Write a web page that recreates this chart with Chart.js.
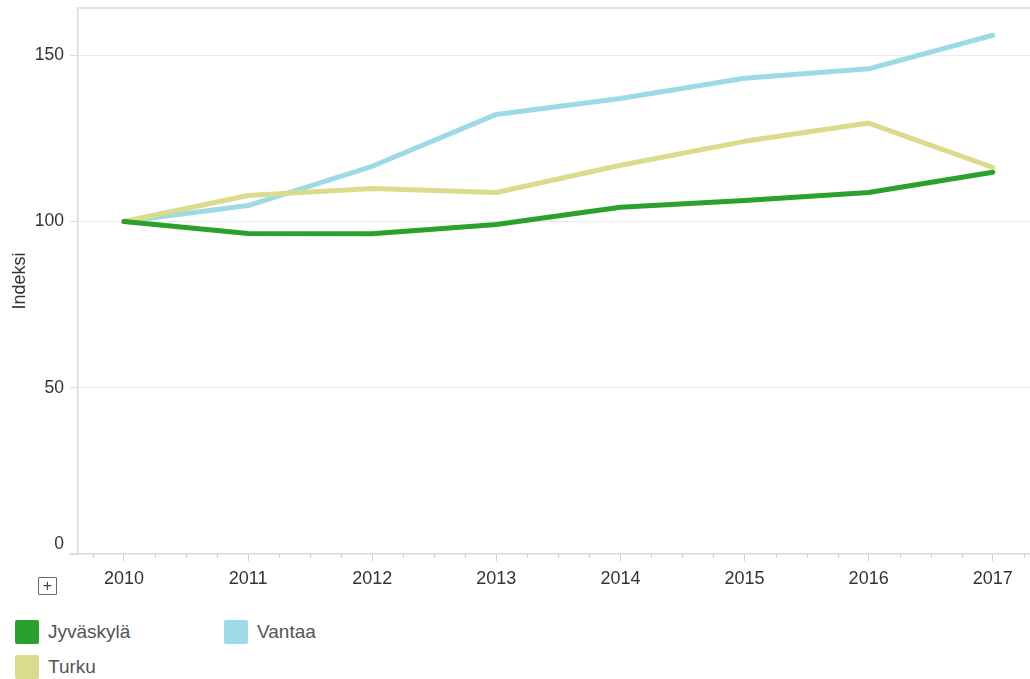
<!DOCTYPE html>
<html>
<head>
<meta charset="utf-8">
<script src="https://cdn.jsdelivr.net/npm/chart.js@4/dist/chart.umd.min.js"></script>
<style>
  body { margin: 0; background: #fff; font-family: "Liberation Sans", Arial, sans-serif; }
  #wrap { position: absolute; left: 0; top: 0; width: 1030px; height: 600px; }
  .plus { position: absolute; left: 38px; top: 577px; width: 17px; height: 16px; border: 1px solid #666;
          border-radius: 1px; font-size: 16px; line-height: 16px; text-align: center; color: #444; }
  .legend { position: absolute; font-size: 19px; color: #555; }
  .legend .sw { position: absolute; width: 24px; height: 24px; border-radius: 2px; }
  .legend .lb { position: absolute; white-space: nowrap; }
</style>
</head>
<body>
<div id="wrap"><canvas id="lineChart"></canvas></div>
<div class="plus">+</div>
<div id="legend"></div>
<script>
const years = [2010, 2011, 2012, 2013, 2014, 2015, 2016, 2017]
const jyvaskyla = [100, 96.4, 96.3, 99.1, 104.3, 106.3, 108.7, 114.8]
const vantaa = [100, 104.8, 116.6, 132.2, 137.0, 143.1, 145.9, 156.0]
const turku = [100, 107.8, 109.9, 108.7, 116.9, 124.1, 129.6, 116.3]
const yTicks = [0, 50, 100, 150]

const colors = { 'Jyväskylä': '#2ca02c', 'Turku': '#dbdb8d', 'Vantaa': '#9edae5' }

function pts(arr) {
    return arr.map((v, i) => ({ x: years[i], y: v }))
}

// top border, axis extension and quarter ticks
const decor = {
    id: 'decor',
    afterDraw(chart) {
        const ctx = chart.ctx
        const a = chart.chartArea
        const xs = chart.scales.x
        ctx.save()
        ctx.strokeStyle = '#dadada'
        ctx.lineWidth = 1.5
        ctx.beginPath()
        ctx.moveTo(a.left, a.top)
        ctx.lineTo(a.right, a.top)
        ctx.moveTo(a.left - 9, a.bottom)
        ctx.lineTo(a.left, a.bottom)
        ctx.stroke()
        ctx.lineWidth = 1
        ctx.strokeStyle = '#cfcfcf'
        ctx.beginPath()
        for (let q = 2009.75; q < xs.max; q += 0.25) {
            if (Math.abs(q - Math.round(q)) < 0.01) continue
            const px = Math.round(xs.getPixelForValue(q)) + 0.5
            ctx.moveTo(px, a.bottom)
            ctx.lineTo(px, a.bottom + 4)
        }
        ctx.stroke()
        ctx.restore()
    }
}

let MyChart = document.getElementById('lineChart').getContext('2d')

let indexChart = new Chart(MyChart, {
    type: 'line',
    data: {
        datasets: [
            { label: 'Jyväskylä', data: pts(jyvaskyla), borderColor: colors['Jyväskylä'] },
            { label: 'Turku', data: pts(turku), borderColor: colors['Turku'] },
            { label: 'Vantaa', data: pts(vantaa), borderColor: colors['Vantaa'] }
        ]
    },
    options: {
        responsive: true,
        maintainAspectRatio: false,
        animation: false,
        layout: { padding: { top: 8, right: 0, left: 0, bottom: 0 } },
        elements: {
            line: { borderWidth: 5, tension: 0, borderCapStyle: 'round', borderJoinStyle: 'round' },
            point: { radius: 0 }
        },
        plugins: {
            legend: { display: false },
            tooltip: { enabled: false }
        },
        scales: {
            x: {
                type: 'linear',
                min: 2009.63,
                max: 2017.3,
                afterBuildTicks: s => { s.ticks = years.map(v => ({ value: v })) },
                afterFit: s => { s.height = 46; s.paddingLeft = 0; s.paddingRight = 0 },
                ticks: {
                    callback: v => String(v),
                    color: '#333',
                    font: { family: 'Liberation Sans', size: 18 },
                    padding: 7,
                    maxRotation: 0
                },
                grid: { drawOnChartArea: false, tickLength: 7, color: '#cfcfcf' },
                border: { color: '#dadada', width: 1.5 }
            },
            y: {
                min: 0,
                max: 164.2,
                afterBuildTicks: s => { s.ticks = yTicks.map(v => ({ value: v })) },
                afterFit: s => { s.width = 78; s.paddingTop = 0; s.paddingBottom = 0 },
                ticks: {
                    // the 0 label sits a little above its tick
                    callback: v => v === 0 ? ['0', ''] : String(v),
                    color: '#333',
                    font: { family: 'Liberation Sans', size: 17.5, lineHeight: 1.1 },
                    padding: 6
                },
                grid: {
                    color: c => c.tick && c.tick.value === 0 ? 'rgba(0,0,0,0)' : '#ebebeb',
                    tickColor: '#dadada',
                    tickLength: 8
                },
                border: { color: '#dadada', width: 1.5 },
                title: {
                    display: true,
                    text: 'Indeksi',
                    color: '#333',
                    font: { family: 'Liberation Sans', size: 18 },
                    padding: { top: 9, bottom: 0 }
                }
            }
        }
    },
    plugins: [decor]
})

// legend
const legendItems = [
    { name: 'Jyväskylä', left: 15, top: 620 },
    { name: 'Vantaa', left: 224, top: 620 },
    { name: 'Turku', left: 15, top: 655 }
]
const legendEl = document.getElementById('legend')
legendItems.forEach(it => {
    const d = document.createElement('div')
    d.className = 'legend'
    d.style.left = it.left + 'px'
    d.style.top = it.top + 'px'
    d.innerHTML = '<div class="sw" style="left:0;top:0;background:' + colors[it.name] + '"></div>' +
        '<div class="lb" style="left:33px;top:1px">' + it.name + '</div>'
    legendEl.appendChild(d)
})
</script>
</body>
</html>
